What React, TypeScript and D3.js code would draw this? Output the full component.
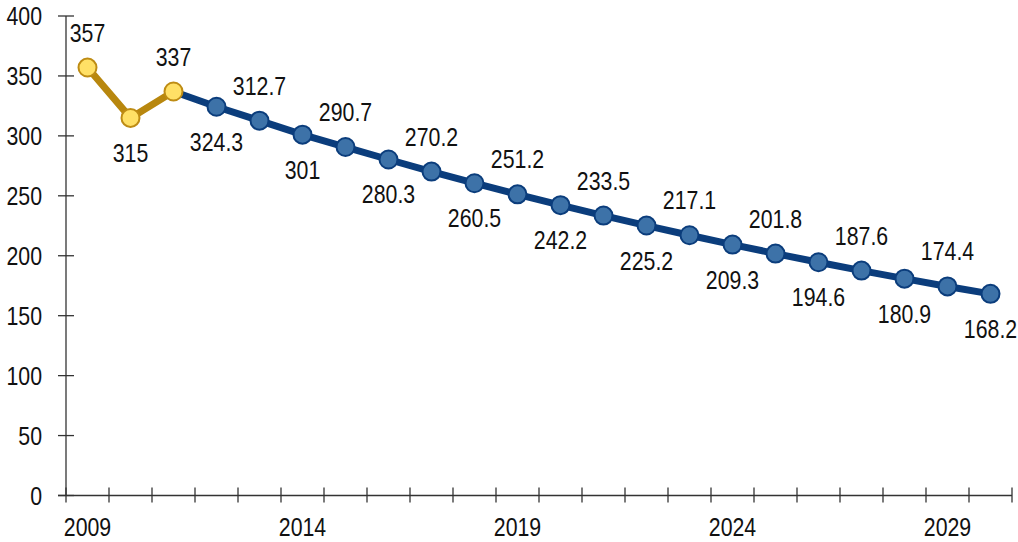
import React from 'react';
import * as d3 from 'd3';

const years = d3.range(2009, 2031).map(String);
const actualYears = ['2009', '2010', '2011'];
const actualValues = [357, 315, 337];
const forecastYears = ['2011', '2012', '2013', '2014', '2015', '2016', '2017', '2018', '2019', '2020',
  '2021', '2022', '2023', '2024', '2025', '2026', '2027', '2028', '2029', '2030'];
const forecastValues = [337, 324.3, 312.7, 301, 290.7, 280.3, 270.2, 260.5, 251.2, 242.2,
  233.5, 225.2, 217.1, 209.3, 201.8, 194.6, 187.6, 180.9, 174.4, 168.2];
const yTicks = [0, 50, 100, 150, 200, 250, 300, 350, 400];
const xLabels = ['2009', '2014', '2019', '2024', '2029'];

const W = 1018;
const H = 542;
const FONT = "'Liberation Sans', Arial, sans-serif";

// narrow-looking text: Liberation Sans squeezed horizontally
const Txt: React.FC<{ x: number; y: number; anchor: 'start' | 'middle' | 'end'; children: React.ReactNode }> =
  ({ x, y, anchor, children }) => (
    <text transform={`translate(${x},${y}) scale(0.82,1)`} textAnchor={anchor}
      fontFamily={FONT} fontSize={26} fill="#111">{children}</text>
  );

const App: React.FC = () => {
  const x = d3.scaleBand<string>().domain(years).range([66, 1012]);
  const y = d3.scaleLinear().domain([0, 400]).range([495.5, 16]);
  const cx = (d: string) => (x(d) ?? 0) + x.bandwidth() / 2;

  const line = d3.line<[string, number]>()
    .x(d => cx(d[0]))
    .y(d => y(d[1]));

  const actual = actualYears.map((d, i) => [d, actualValues[i]] as [string, number]);
  const forecast = forecastYears.map((d, i) => [d, forecastValues[i]] as [string, number]);

  // labels alternate above / below, starting above at 2009
  const labels = years.map((yr, i) => {
    const v = i < 3 ? actualValues[i] : forecastValues[i - 2];
    return { yr, v, above: i % 2 === 0 };
  });

  const tickPos = d3.range(years.length + 1).map(i => 66 + i * x.bandwidth());

  return (
    <svg width={W} height={H} style={{ position: 'absolute', left: 0, top: 0, background: '#fff' }}>
      {/* y axis */}
      <line x1={66} x2={66} y1={y(400)} y2={y(0)} stroke="#333" strokeWidth={1.3} />
      {yTicks.map(t => (
        <g key={t}>
          <line x1={58} x2={74} y1={y(t)} y2={y(t)} stroke="#333" strokeWidth={1.3} />
          <Txt x={42} y={y(t) + 9} anchor="end">{t}</Txt>
        </g>
      ))}
      {/* x axis */}
      <line x1={58} x2={1012} y1={y(0)} y2={y(0)} stroke="#333" strokeWidth={1.3} />
      {tickPos.map((p, i) => (
        <line key={i} x1={p} x2={p} y1={y(0) - 8} y2={y(0) + 7} stroke="#333" strokeWidth={1.3} />
      ))}
      {xLabels.map(l => (
        <Txt key={l} x={cx(l)} y={536} anchor="middle">{l}</Txt>
      ))}

      {/* series */}
      <path d={line(forecast) ?? ''} fill="none" stroke="#0B3D7C" strokeWidth={7} strokeLinejoin="round" />
      <path d={line(actual) ?? ''} fill="none" stroke="#B8870E" strokeWidth={7} strokeLinejoin="round" />
      {forecast.slice(1).map(d => (
        <circle key={d[0]} cx={cx(d[0])} cy={y(d[1])} r={9} fill="#3D72A8" stroke="#0B3D7C" strokeWidth={2} />
      ))}
      {actual.map(d => (
        <circle key={d[0]} cx={cx(d[0])} cy={y(d[1])} r={9} fill="#FFE066" stroke="#BE8C14" strokeWidth={2} />
      ))}

      {labels.map(l => (
        <Txt key={l.yr} x={cx(l.yr)} y={y(l.v) + (l.above ? -26 : 44)} anchor="middle">{l.v}</Txt>
      ))}
    </svg>
  );
};

export default App;
